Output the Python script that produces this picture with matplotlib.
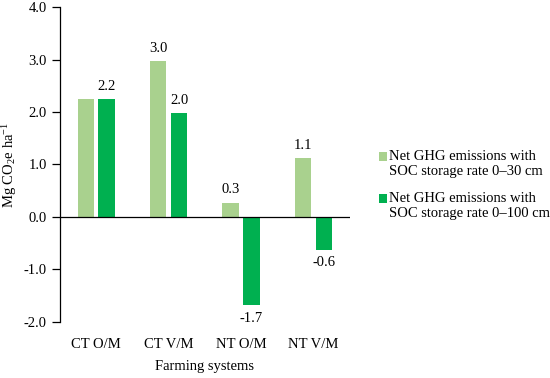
import matplotlib
matplotlib.use("Agg")
import matplotlib.pyplot as plt
from matplotlib.patches import Rectangle
from matplotlib.container import BarContainer
from matplotlib.legend_handler import HandlerPatch, update_from_first_child
import numpy as np

categories = ["CT O/M", "CT V/M", "NT O/M", "NT V/M"]
ghg_30 = [2.24, 2.97, 0.27, 1.12]
ghg_100 = [2.24, 1.98, -1.69, -0.63]
labels_30 = ["", "3.0", "0.3", "1.1"]
labels_100 = ["2.2", "2.0", "-1.7", "-0.6"]
series_names = ["Net GHG emissions with\nSOC storage rate 0\u201330 cm",
                "Net GHG emissions with\nSOC storage rate 0\u2013100 cm"]
yticks = [-2.0, -1.0, 0.0, 1.0, 2.0, 3.0, 4.0]

LIGHT = "#a9d18e"
DARK = "#00b050"

plt.rcParams["font.family"] = ["Liberation Serif", "DejaVu Serif"]
plt.rcParams["font.size"] = 10.5
plt.rcParams["mathtext.fontset"] = "custom"
plt.rcParams["mathtext.rm"] = "Liberation Serif"
plt.rcParams["mathtext.it"] = "Liberation Serif:italic"
plt.rcParams["mathtext.default"] = "rm"


# legend square sits next to the first line of the label
def top_square(legend, orig_handle, xdescent, ydescent, width, height, fontsize):
    return Rectangle((-xdescent, -ydescent + 0.5 * fontsize), width, height)


fig = plt.figure(figsize=(5.5, 3.78), dpi=100)
ax = fig.add_axes([0.109, 0.149, 0.527, 0.832])

x = np.arange(len(categories))
w = 0.227
off = 0.144
b1 = ax.bar(x - off, ghg_30, w, color=LIGHT, label=series_names[0])
b2 = ax.bar(x + off, ghg_100, w, color=DARK, label=series_names[1])

for rect, lab, v in zip(b1, labels_30, ghg_30):
    if lab:
        ax.text(rect.get_x() + rect.get_width() / 2, v + 0.12, lab,
                ha="center", va="bottom")
for rect, lab, v in zip(b2, labels_100, ghg_100):
    if v >= 0:
        ax.text(rect.get_x() + rect.get_width() / 2, v + 0.12, lab,
                ha="center", va="bottom")
    else:
        ax.text(rect.get_x() + rect.get_width() / 2, v - 0.12, lab,
                ha="center", va="top")

ax.axhline(0, color="black", linewidth=0.9)
ax.set_xlim(-0.5, 3.5)
ax.set_ylim(-2.0, 4.0)
ax.set_yticks(yticks)
ax.set_yticklabels([f"{t:.1f}" for t in yticks])
ax.set_xticks(x)
ax.set_xticklabels(categories)
ax.tick_params(axis="x", length=0, pad=12)
ax.tick_params(axis="y", direction="out", length=6, width=0.9)
for s in ["top", "right", "bottom"]:
    ax.spines[s].set_visible(False)
ax.spines["left"].set_linewidth(0.9)

ax.set_xlabel("Farming systems", labelpad=6)
ax.set_ylabel("Mg CO$_2$e ha$^{-1}$", labelpad=3)

handler = HandlerPatch(patch_func=top_square, update_func=update_from_first_child)
ax.legend(loc="center left", bbox_to_anchor=(1.1, 0.435), frameon=False,
          borderaxespad=0.0, borderpad=0.0,
          handlelength=0.55, handleheight=0.55, handletextpad=0.15,
          labelspacing=0.95,
          handler_map={BarContainer: handler})

fig.savefig("out.png", dpi=100)
